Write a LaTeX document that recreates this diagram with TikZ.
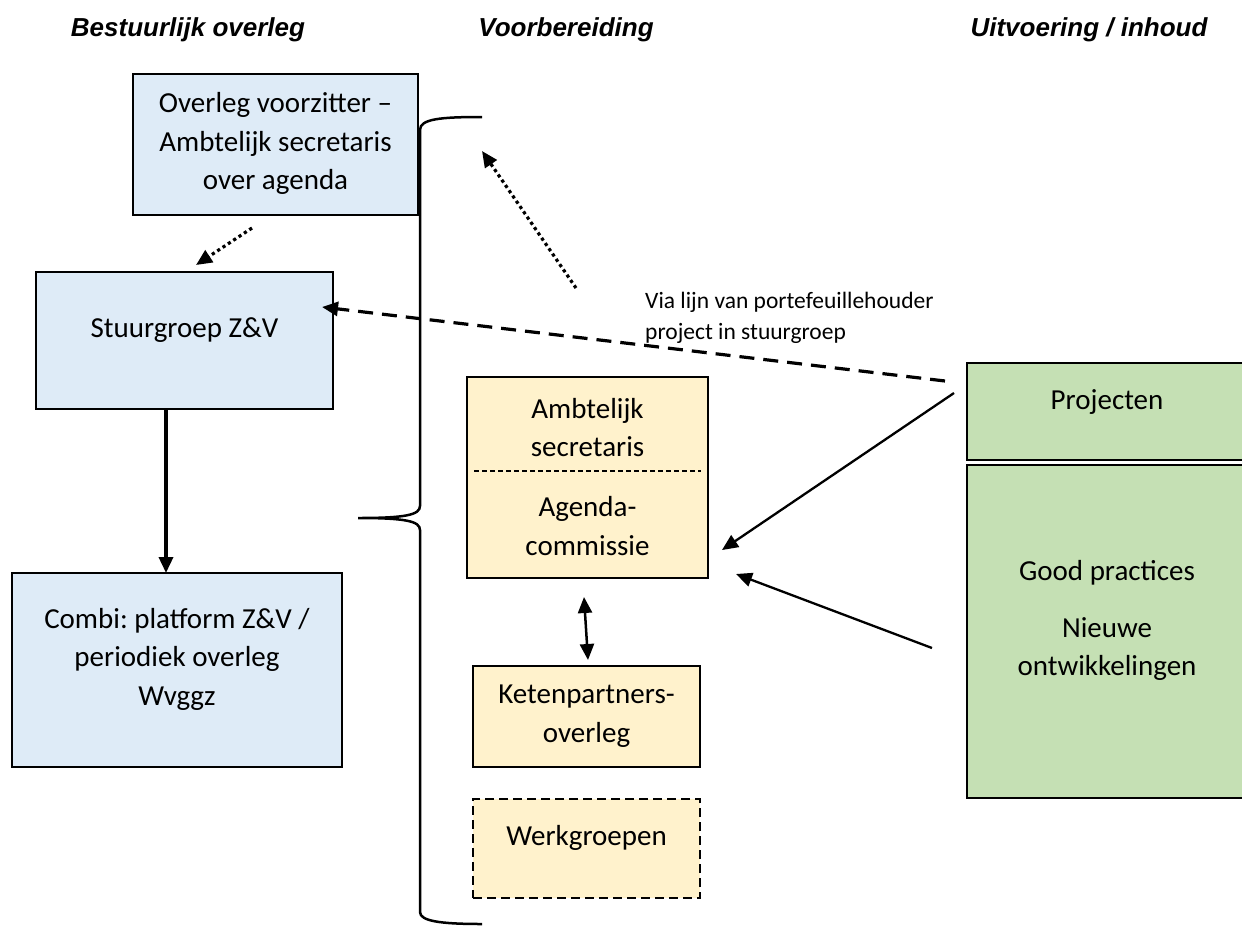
\documentclass[tikz,border=0pt]{standalone}
\usepackage{fontspec}
\setmainfont{Carlito}
\newfontfamily\headfont{Liberation Sans}
\usetikzlibrary{arrows.meta}
\definecolor{bluefill}{HTML}{DEEBF7}
\definecolor{yellowfill}{HTML}{FFF2CC}
\definecolor{greenfill}{HTML}{C5E0B4}
\frenchspacing
\begin{document}
\begin{tikzpicture}[x=1pt,y=-1pt,
  boxbase/.style={draw=black, line width=2.7pt, inner sep=0pt, anchor=center},
  bluebox/.style={boxbase, fill=bluefill},
  yellowbox/.style={boxbase, fill=yellowfill},
  greenbox/.style={boxbase, fill=greenfill},
  txt/.style={align=center, inner sep=0pt, font=\fontsize{29}{38.5}\selectfont},
  smalltxt/.style={align=left, inner sep=0pt, anchor=west, font=\fontsize{23.5}{31}\selectfont},
  headtxt/.style={inner sep=0pt, font=\headfont\bfseries\itshape\fontsize{26}{30}\selectfont},
  tip/.style={-{Triangle[length=16pt,width=14pt]}},
  solidarrow/.style={tip, line width=2.3pt},
  thickarrow/.style={tip, line width=3.5pt},
  dotarrow/.style={tip, line width=3.2pt, dash pattern=on 3.2pt off 3.2pt},
  dasharrow/.style={tip, line width=3.2pt, dash pattern=on 15pt off 9pt},
  bracepath/.style={line width=2.5pt}
]
\useasboundingbox (0,0) rectangle (1242,927);

% headers
\node[headtxt] (h1) at (188,30) {Bestuurlijk overleg};
\node[headtxt] (h2) at (566,30) {Voorbereiding};
\node[headtxt] (h3) at (1089,30) {Uitvoering / inhoud};

% left column
\node[bluebox, minimum width=285pt, minimum height=141pt] (ovz) at (275.5,144.5) {};
\node[txt] (ovzt) at (275.5,143.5) {Overleg voorzitter –\\Ambtelijk secretaris\\over agenda};

\node[bluebox, minimum width=297pt, minimum height=137pt] (stg) at (184.5,340.5) {};
\node[txt] (stgt) at (184.5,330) {Stuurgroep Z\&V};

\node[bluebox, minimum width=330pt, minimum height=194pt] (cmb) at (177,670) {};
\node[txt] (cmbt) at (177,659) {Combi: platform Z\&V /\\periodiek overleg\\Wvggz};

% middle column
\node[yellowbox, minimum width=241pt, minimum height=201pt] (amb) at (587.5,477.5) {};
\node[txt] (ambt1) at (587.5,427.5) {Ambtelijk\\secretaris};
\node[txt] (ambt2) at (587.5,526) {Agenda-\\commissie};
\coordinate (sepL) at (474,471);
\coordinate (sepR) at (701,471);
\draw[line width=1.5pt, dash pattern=on 5pt off 3pt] (sepL) -- (sepR);

\node[yellowbox, minimum width=227pt, minimum height=101pt] (ket) at (586.5,716.5) {};
\node[txt] (kett) at (586.5,716) {Ketenpartners-\\overleg};

\node[yellowbox, dash pattern=on 9pt off 5pt, minimum width=227pt, minimum height=99pt] (wkg) at (586.5,848.5) {};
\node[txt] (wkgt) at (586.5,838) {Werkgroepen};

% right column
\node[greenbox, minimum width=290pt, minimum height=97pt] (prj) at (1112,411.5) {};
\node[txt] (prjt) at (1107,402) {Projecten};
\node[greenbox, minimum width=290pt, minimum height=333pt] (gdp) at (1112,631.5) {};
\node[txt] (gdpt1) at (1107,573) {Good practices};
\node[txt] (gdpt2) at (1107,649) {Nieuwe\\ontwikkelingen};

% label
\node[smalltxt] (lbl) at (645,317.5) {Via lijn van portefeuillehouder\\project in stuurgroep};

% brace
\coordinate (brTop) at (482,117);
\coordinate (brTip) at (358,518);
\coordinate (brBot) at (482,924);
\draw[bracepath] (brTop) .. controls (440,117) and (420,119) .. (420,130)
  -- (420,506) .. controls (420,515) and (405,518) .. (brTip)
  .. controls (405,518) and (420,521) .. (420,530)
  -- (420,912) .. controls (420,921) and (440,924) .. (brBot);

% connectors
\coordinate (d1s) at (252,228);
\coordinate (d1e) at (196,265);
\draw[dotarrow] (d1s) -- (d1e);

\coordinate (d2s) at (576,288);
\coordinate (d2e) at (482,151);
\draw[dotarrow] (d2s) -- (d2e);

\coordinate (sc1) at (166,410);
\coordinate (sc2) at (166,573);
\draw[thickarrow] (sc1) -- (sc2);

\coordinate (dsS) at (945,381);
\coordinate (dsE) at (322,307);
\draw[dasharrow] (dsS) -- (dsE);

\coordinate (p1s) at (954,393);
\coordinate (p1e) at (722,550);
\draw[solidarrow] (p1s) -- (p1e);

\coordinate (p2s) at (932,648);
\coordinate (p2e) at (736,574);
\draw[solidarrow] (p2s) -- (p2e);

\coordinate (kaT) at (584,597);
\coordinate (kaB) at (588,660);
\draw[line width=2.5pt, {Triangle[length=16pt,width=14pt]}-{Triangle[length=16pt,width=14pt]}] (kaT) -- (kaB);
\end{tikzpicture}
\end{document}
